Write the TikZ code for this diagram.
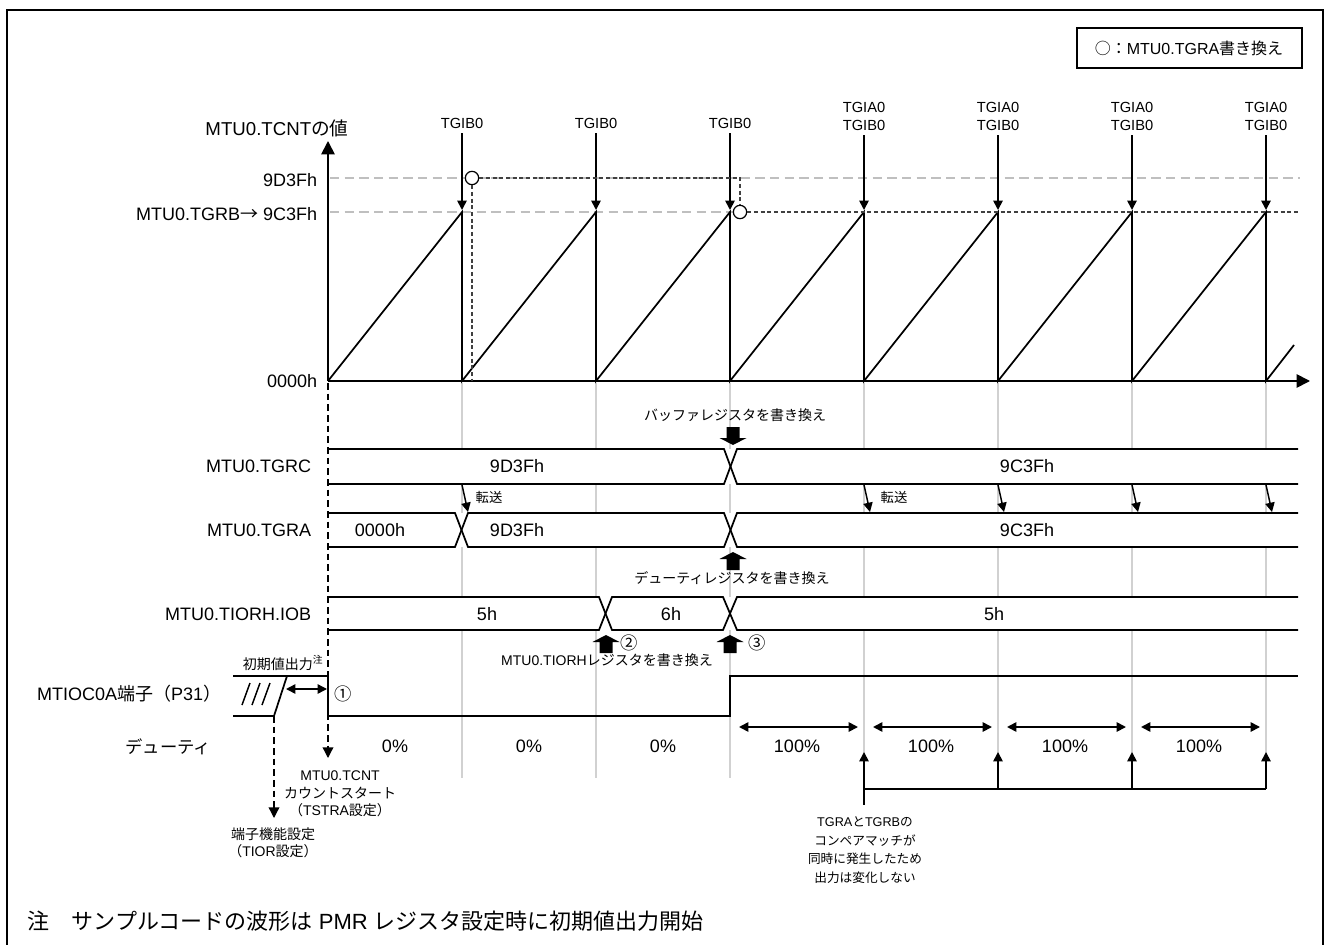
\documentclass[tikz,border=0pt]{standalone}
\usepackage{fontspec}
\setmainfont{Liberation Sans}
\newfontfamily\jp{Noto Sans CJK JP}
\usetikzlibrary{arrows.meta, positioning, calc}
\tikzset{
  every picture/.style={line width=1.3pt},
  lbl/.style={font=\fontsize{13.5}{16}\selectfont, inner sep=0pt},
  smalllbl/.style={font=\fontsize{11}{13.5}\selectfont, inner sep=0pt, align=center},
  jnote/.style={font=\jp\fontsize{10.5}{13}\selectfont, inner sep=0pt, align=center},
  arrow/.style={-{Triangle[length=7pt, width=7pt]}, line width=1.3pt},
  dblarrow/.style={{Triangle[length=7pt, width=7pt]}-{Triangle[length=7pt, width=7pt]}, line width=1.3pt},
  axis/.style={-{Triangle[length=10pt, width=10pt]}, line width=1.3pt},
  guide/.style={draw=black!18, line width=0.9pt},
  refline/.style={draw=black!25, line width=0.9pt, dash pattern=on 7pt off 4pt},
  shiftline/.style={draw=black!75, line width=1pt, dash pattern=on 3pt off 2pt},
  setline/.style={line width=1pt, dash pattern=on 5pt off 3pt, -{Triangle[length=8pt, width=8pt]}},
  wcirc/.style={circle, draw, fill=white, inner sep=0pt, minimum size=10pt, line width=0.9pt},
  blkarrow/.pic={\fill (0,0) -- (-13.5,-7) -- (-6.5,-7) -- (-6.5,-18) -- (6.5,-18) -- (6.5,-7) -- (13.5,-7) -- cycle;},
}

\begin{document}
\begin{tikzpicture}[x=0.75pt, y=-0.75pt]
  \useasboundingbox (0,0) rectangle (1328,945);
  \draw[line width=1.8pt] (7,945) -- (7,10) -- (1323,10) -- (1323,945);

  % legend
  \draw[line width=0.8pt] (1077,28) rectangle (1302,68);
  \node[font=\fontsize{12}{14}\selectfont, inner sep=0pt] (legend) at (1189,48) {{\jp ○：}MTU0.TGRA{\jp 書き換え}};

  % grid
  \foreach \i in {1,...,7}
    \foreach \a/\b in {383/449, 484/513, 547/597, 630/778}
      \draw[guide] (328+134*\i,\a) -- (328+134*\i,\b);

  % counter levels
  \draw[refline] (330,178) -- (1300,178);
  \draw[refline] (330,212) -- (734,212);

  % axes
  \coordinate (org) at (328,381);
  \coordinate (ytip) at (328,141);
  \coordinate (xtip) at (1310,381);
  \draw[axis] (org) -- (ytip);
  \draw[axis] (org) -- (xtip);
  \node[font=\fontsize{14}{16}\selectfont, inner sep=0pt] (ylbl) at (277,128) {MTU0.TCNT{\jp の値}};
  \node[lbl, anchor=east] (lv1) at (318,180) {9D3Fh};
  \node[lbl, anchor=east] (lv2) at (318,214) {MTU0.TGRB{\jp →} 9C3Fh};
  \node[lbl, anchor=east] (lv0) at (318,381) {0000h};

  % TCNT sawtooth
  \draw (org) foreach \i in {1,...,7} { -- ++(134,-169) -- ++(0,169) } -- ++(28,-36);

  % interrupts
  \foreach \i in {1,2,3} {
    \node[smalllbl] (irq\i) at (328+134*\i,123) {TGIB0};
    \coordinate (pk\i) at (328+134*\i,210);
    \draw[arrow, shorten <=3pt] (irq\i) -- (pk\i);
  }
  \foreach \i in {4,...,7} {
    \node[smalllbl] (irq\i) at (328+134*\i,116) {TGIA0\\TGIB0};
    \coordinate (pk\i) at (328+134*\i,210);
    \draw[arrow, shorten <=3pt] (irq\i) -- (pk\i);
  }

  % TGRA rewrite
  \node[wcirc] (w1) at (472,178) {};
  \node[wcirc] (w2) at (740,212) {};
  \coordinate (w1base) at (472,381);
  \coordinate (lvlend) at (1300,212);
  \draw[shiftline] (w1) -| (w2);
  \draw[shiftline] (w1) -- (w1base);
  \draw[shiftline] (w2) -- (lvlend);

  % registers
  \node[lbl, anchor=east] (rc) at (312,466) {MTU0.TGRC};
  \node[lbl, anchor=east] (ra) at (312,530) {MTU0.TGRA};
  \node[lbl, anchor=east] (rio) at (312,614) {MTU0.TIORH.IOB};

  \draw (328,449) -- (724,449) -- (737,484) -- (1298,484);
  \draw (328,484) -- (724,484) -- (737,449) -- (1298,449);
  \draw (328,513) -- (455,513) -- (468,547) -- (724,547) -- (737,513) -- (1298,513);
  \draw (328,547) -- (455,547) -- (468,513) -- (724,513) -- (737,547) -- (1298,547);
  \draw (328,597) -- (599,597) -- (612,630) -- (723,630) -- (737,597) -- (1298,597);
  \draw (328,630) -- (599,630) -- (612,597) -- (723,597) -- (737,630) -- (1298,630);

  \node[lbl] (c1) at (517,466) {9D3Fh};
  \node[lbl] (c2) at (1027,466) {9C3Fh};
  \node[lbl] (a0) at (380,530) {0000h};
  \node[lbl] (a1) at (517,530) {9D3Fh};
  \node[lbl] (a2) at (1027,530) {9C3Fh};
  \node[lbl] (b1) at (487,614) {5h};
  \node[lbl] (b2) at (671,614) {6h};
  \node[lbl] (b3) at (994,614) {5h};

  % transfer TGRC -> TGRA
  \foreach \i in {1,4,5,6,7} {
    \coordinate (tf\i) at (328+134*\i,485);
    \coordinate (tt\i) at (334+134*\i,512);
    \draw[arrow, line width=1.1pt] (tf\i) -- (tt\i);
  }
  \node[jnote, font=\jp\fontsize{10}{12}\selectfont] (tx1) at (489,497) {転送};
  \node[jnote, font=\jp\fontsize{10}{12}\selectfont] (tx4) at (894,497) {転送};

  % register writes
  \pic at (733,445) {blkarrow};
  \node[jnote] (bufnote) at (735,415) {バッファレジスタを書き換え};
  \pic[rotate=180] at (733,552) {blkarrow};
  \node[jnote] (dutynote) at (732,578) {デューティレジスタを書き換え};
  \pic[rotate=180] at (606,635) {blkarrow};
  \pic[rotate=180] at (730,635) {blkarrow};
  \node[jnote, font=\jp\fontsize{13}{15}\selectfont] (n2) at (629,643) {②};
  \node[jnote, font=\jp\fontsize{13}{15}\selectfont] (n3) at (757,643) {③};
  \node[jnote] (tiornote) at (607,660) {{\rmfamily MTU0.TIORH}レジスタを書き換え};

  % MTIOC0A pin
  \node[lbl, anchor=east] (pin) at (222,694) {MTIOC0A{\jp 端子（}P31{\jp ）}};
  \draw (233,676) -- (328,676) -- (328,716) -- (730,716) -- (730,676) -- (1298,676);
  \draw (233,716) -- (274,716) -- (287,676);
  \foreach \x in {242,252,262} \draw[line width=1.1pt] (\x,705) -- (\x+8,683);
  \coordinate (ia) at (286,689);
  \coordinate (ib) at (327,689);
  \draw[dblarrow, line width=1.1pt] (ia) -- (ib);
  \node[jnote, font=\jp\fontsize{13}{15}\selectfont] (n1) at (343,694) {①};
  \node[jnote] (initnote) at (283,663) {初期値出力\textsuperscript{注}};

  % setting points
  \coordinate (cs0) at (328,383);
  \coordinate (cs1) at (328,758);
  \draw[setline] (cs0) -- (cs1);
  \node[smalllbl, font=\fontsize{10.5}{13}\selectfont] (csnote) at (340,794) {MTU0.TCNT\\{\jp カウントスタート}\\{\jp （}TSTRA{\jp 設定）}};
  \coordinate (pf0) at (274,716);
  \coordinate (pf1) at (274,818);
  \draw[setline] (pf0) -- (pf1);
  \node[smalllbl, font=\fontsize{10.5}{12.75}\selectfont] (pfnote) at (273,843) {{\jp 端子機能設定}\\{\jp （}TIOR{\jp 設定）}};

  % duty
  \node[font=\jp\fontsize{13}{15}\selectfont, inner sep=0pt, anchor=east] (duty) at (212,747) {デューティ};
  \foreach \i in {0,1,2}
    \node[lbl] (d\i) at (395+134*\i,746) {0\%};
  \foreach \i in {3,...,6} {
    \coordinate (da\i) at (337+134*\i,727);
    \coordinate (db\i) at (456+134*\i,727);
    \draw[dblarrow] (da\i) -- (db\i);
    \node[lbl] (d\i) at (395+134*\i,746) {100\%};
  }

  % simultaneous compare match
  \foreach \i in {4,...,7} {
    \coordinate (cm\i) at (328+134*\i,789);
    \coordinate (ct\i) at (328+134*\i,752);
    \draw[arrow] (cm\i) -- (ct\i);
  }
  \coordinate (cmlow) at (864,805);
  \draw (cm4) -- (cm7);
  \draw (cm4) -- (cmlow);
  \node[jnote, font=\jp\fontsize{9.5}{13.9}\selectfont] (cmnote) at (865,850) {{\rmfamily TGRA}と{\rmfamily TGRB}の\\コンペアマッチが\\同時に発生したため\\出力は変化しない};

  % footnote
  \node[font=\fontsize{16.5}{19}\selectfont, inner sep=0pt, anchor=west] (foot) at (27,921) {{\jp 注　サンプルコードの波形は} PMR {\jp レジスタ設定時に初期値出力開始}};
\end{tikzpicture}
\end{document}
